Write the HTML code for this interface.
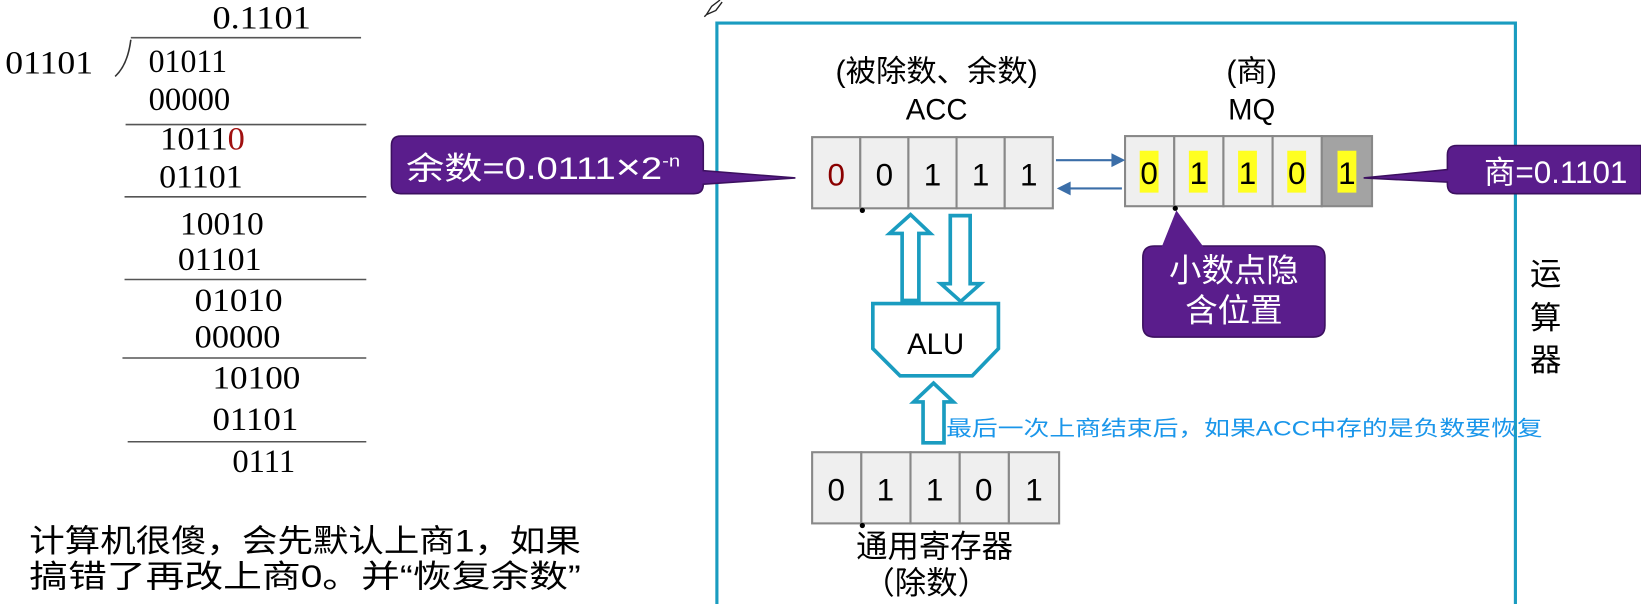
<!DOCTYPE html>
<html><head><meta charset="utf-8"><style>
html,body{margin:0;padding:0;background:#fff;overflow:hidden;}
svg{display:block;}
.s{font-family:"Liberation Serif","Noto Serif CJK SC",serif;font-size:31px;fill:#000;}
.c{font-family:"Liberation Sans","Noto Sans CJK SC",sans-serif;}
</style></head><body>
<svg width="1641" height="604" viewBox="0 0 1568 577" preserveAspectRatio="none" xmlns="http://www.w3.org/2000/svg">
<rect width="1568" height="577" fill="#fff"/>
<!-- long division -->
<g class="s">
<text x="203" y="27" textLength="94" lengthAdjust="spacingAndGlyphs">0.1101</text>
<text x="5" y="70" textLength="84" lengthAdjust="spacingAndGlyphs">01101</text>
<text x="142" y="69" textLength="75" lengthAdjust="spacingAndGlyphs">01011</text>
<text x="142" y="105" textLength="78" lengthAdjust="spacingAndGlyphs">00000</text>
<text x="153" y="143" textLength="81" lengthAdjust="spacingAndGlyphs">1011<tspan fill="#a01010">0</tspan></text>
<text x="152" y="179" textLength="80" lengthAdjust="spacingAndGlyphs">01101</text>
<text x="172" y="224" textLength="80" lengthAdjust="spacingAndGlyphs">10010</text>
<text x="170" y="258" textLength="80" lengthAdjust="spacingAndGlyphs">01101</text>
<text x="186" y="297" textLength="84" lengthAdjust="spacingAndGlyphs">01010</text>
<text x="186" y="332" textLength="82" lengthAdjust="spacingAndGlyphs">00000</text>
<text x="203" y="371" textLength="84" lengthAdjust="spacingAndGlyphs">10100</text>
<text x="203" y="411" textLength="82" lengthAdjust="spacingAndGlyphs">01101</text>
<text x="222" y="451" textLength="60" lengthAdjust="spacingAndGlyphs">0111</text>
</g>
<g stroke="#555" stroke-width="1.5">
<line x1="125" y1="36" x2="345" y2="36"/>
<line x1="120" y1="119" x2="350" y2="119"/>
<line x1="119" y1="188" x2="350" y2="188"/>
<line x1="119" y1="267" x2="350" y2="267"/>
<line x1="117" y1="342" x2="350" y2="342"/>
<line x1="122" y1="422" x2="350" y2="422"/>
</g>
<path d="M125 38 Q122 62 110 73" stroke="#333" stroke-width="1.5" fill="none"/>
<text class="c" x="28" y="527" font-size="30" textLength="527" lengthAdjust="spacingAndGlyphs">计算机很傻，会先默认上商1，如果</text>
<text class="c" x="28" y="561" font-size="30" textLength="527" lengthAdjust="spacingAndGlyphs">搞错了再改上商0。并“恢复余数”</text>

<!-- pencil -->
<path d="M675 14 L680 6 L688 0 M675 14 L684 10 L690 2 M675 14 L673 16" stroke="#222" stroke-width="1.3" fill="none"/>

<!-- frame -->
<path d="M685 580 V22 H1448 V580" fill="none" stroke="#1a9cc0" stroke-width="3"/>

<!-- labels -->
<text class="c" x="895" y="78" font-size="29" text-anchor="middle">(被除数、余数)</text>
<text class="c" x="895" y="114" font-size="28" text-anchor="middle">ACC</text>
<text class="c" x="1196" y="78" font-size="29" text-anchor="middle">(商)</text>
<text class="c" x="1196" y="114" font-size="28" text-anchor="middle">MQ</text>

<!-- ACC register -->
<g stroke="#888" stroke-width="2" fill="#efefef">
<rect x="776" y="131" width="46" height="68"/>
<rect x="822" y="131" width="46" height="68"/>
<rect x="868" y="131" width="46" height="68"/>
<rect x="914" y="131" width="46" height="68"/>
<rect x="960" y="131" width="46" height="68"/>
</g>
<g class="c" font-size="30" text-anchor="middle">
<text x="799" y="177" fill="#8a0000">0</text>
<text x="845" y="177">0</text>
<text x="891" y="177">1</text>
<text x="937" y="177">1</text>
<text x="983" y="177">1</text>
</g>
<circle cx="824" cy="201" r="2.5" fill="#000"/>

<!-- MQ register -->
<g stroke="#888" stroke-width="2" fill="#efefef">
<rect x="1075" y="130" width="47" height="67"/>
<rect x="1122" y="130" width="47" height="67"/>
<rect x="1169" y="130" width="47" height="67"/>
<rect x="1216" y="130" width="47" height="67"/>
<rect x="1263" y="130" width="48" height="67" fill="#a3a3a3"/>
</g>
<g fill="#ffff20">
<rect x="1089" y="144" width="18" height="40"/>
<rect x="1136" y="144" width="18" height="40"/>
<rect x="1183" y="144" width="18" height="40"/>
<rect x="1230" y="144" width="18" height="40"/>
<rect x="1278" y="144" width="18" height="40"/>
</g>
<g class="c" font-size="30" text-anchor="middle">
<text x="1098" y="176">0</text>
<text x="1145" y="176">1</text>
<text x="1192" y="176">1</text>
<text x="1239" y="176">0</text>
<text x="1287" y="176">1</text>
</g>
<circle cx="1123" cy="199" r="2.5" fill="#000"/>

<!-- MQ/ACC arrows -->
<g stroke="#3b6ea8" stroke-width="2" fill="#3b6ea8">
<line x1="1009" y1="153" x2="1066" y2="153"/>
<polygon points="1073,153 1063,148 1063,158"/>
<line x1="1072" y1="180" x2="1020" y2="180"/>
<polygon points="1012,180 1022,175 1022,185"/>
</g>

<!-- hollow arrows -->
<g stroke="#1a9cc0" stroke-width="3.5" fill="#fff" stroke-linejoin="miter">
<polygon points="870,205 889,223 878,223 878,287 862,287 862,223 850,223"/>
<polygon points="908,206 927,206 927,271 937,271 918,288 899,271 908,271"/>
<polygon points="834,290 954,290 954,333 929,359 860,359 834,333"/>
<polygon points="892,366 911,384 902,384 902,423 882,423 882,384 873,384"/>
</g>
<text class="c" x="894" y="338" font-size="28" text-anchor="middle">ALU</text>

<text class="c" x="904" y="416" font-size="20" fill="#1a96ea" textLength="570" lengthAdjust="spacingAndGlyphs">最后一次上商结束后，如果ACC中存的是负数要恢复</text>

<!-- general register -->
<g stroke="#888" stroke-width="2" fill="#efefef">
<rect x="776" y="432" width="47" height="68"/>
<rect x="823" y="432" width="47" height="68"/>
<rect x="870" y="432" width="47" height="68"/>
<rect x="917" y="432" width="47" height="68"/>
<rect x="964" y="432" width="48" height="68"/>
</g>
<g class="c" font-size="30" text-anchor="middle">
<text x="799" y="478">0</text>
<text x="846" y="478">1</text>
<text x="893" y="478">1</text>
<text x="940" y="478">0</text>
<text x="988" y="478">1</text>
</g>
<circle cx="824" cy="502" r="2.5" fill="#000"/>
<text class="c" x="893" y="532" font-size="30" text-anchor="middle">通用寄存器</text>
<text class="c" x="885" y="567" font-size="30" text-anchor="middle">（除数）</text>

<!-- callouts -->
<g fill="#5a1d8c" stroke="#3c1060" stroke-width="1.5">
<path d="M383 130 H663 Q672 130 672 139 V163 L760 170 L672 176 V176 Q672 185 663 185 H383 Q374 185 374 176 V139 Q374 130 383 130 Z"/>
<path d="M1392 139 H1568 V185 H1392 Q1383 185 1383 176 V174 L1303 170 L1383 162 V148 Q1383 139 1392 139 Z"/>
<path d="M1103 235 H1255 Q1266 235 1266 246 V311 Q1266 322 1255 322 H1103 Q1092 322 1092 311 V246 Q1092 235 1103 235 Z"/>
<path d="M1110 236 L1124 201 L1150 236 Z" stroke="none"/>
</g>
<text class="c" x="388" y="171" font-size="30" fill="#fff" textLength="262" lengthAdjust="spacingAndGlyphs">余数=0.0111<tspan font-size="34">×</tspan>2<tspan font-size="16" dy="-12">-n</tspan></text>
<text class="c" x="1418" y="175" font-size="30" fill="#fff">商=0.1101</text>
<text class="c" x="1179" y="269" font-size="31" fill="#fff" text-anchor="middle">小数点隐</text>
<text class="c" x="1179" y="307" font-size="31" fill="#fff" text-anchor="middle">含位置</text>

<!-- 运算器 -->
<g class="c" font-size="30">
<text x="1462" y="272">运</text>
<text x="1462" y="314">算</text>
<text x="1462" y="354">器</text>
</g>
</svg>
</body></html>
